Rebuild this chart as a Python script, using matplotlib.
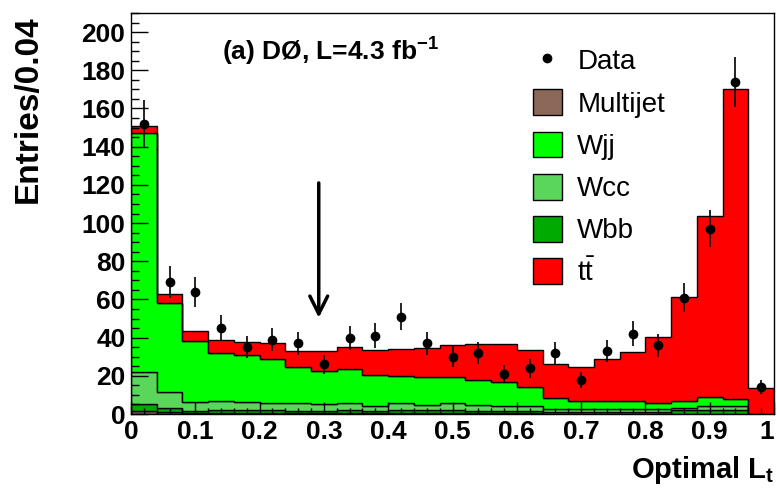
import numpy as np
import matplotlib
matplotlib.use('Agg')
import matplotlib.pyplot as plt
from matplotlib.patches import Patch
from matplotlib.lines import Line2D
from matplotlib.ticker import MultipleLocator

plt.rcParams['font.family'] = ['Liberation Sans', 'DejaVu Sans']
plt.rcParams['mathtext.fontset'] = 'custom'
plt.rcParams['mathtext.rm'] = 'Liberation Sans'
plt.rcParams['mathtext.bf'] = 'Liberation Sans:bold'

# Binning: 25 bins of width 0.04 over [0, 1]
bin_edges = np.round(np.arange(26) * 0.04, 2)
bin_centers = (bin_edges[:-1] + bin_edges[1:]) / 2

# Stack components (entries per bin), bottom to top
multijet = [1.7, 1.0, 0.4, 0.4, 0.4, 0.4, 0.3, 0.3, 0.3, 0.3, 0.3, 0.3, 0.3,
            0.3, 0.3, 0.3, 0.2, 0.2, 0.2, 0.2, 0.2, 0.2, 0.2, 0.2, 0.0]
wbb = [3.4, 2.0, 1.1, 1.6, 1.6, 1.6, 1.5, 1.5, 1.7, 1.5, 1.7, 1.7, 1.7,
       1.5, 1.5, 1.5, 1.0, 1.0, 1.0, 1.0, 1.0, 1.8, 1.8, 1.8, 0.0]
wcc = [16.9, 8.4, 5.0, 5.0, 4.2, 3.6, 3.8, 3.2, 3.9, 2.6, 3.6, 2.9, 3.6,
       2.8, 2.4, 2.4, 1.3, 1.3, 1.3, 1.3, 1.3, 1.3, 2.4, 2.0, 0.0]
wjj = [125.0, 46.5, 31.8, 25.2, 24.6, 23.4, 19.2, 17.7, 17.9, 15.9, 14.3, 14.7, 14.0,
       13.2, 12.4, 9.8, 5.7, 4.3, 4.3, 4.3, 3.4, 3.7, 4.7, 3.9, 0.0]
ttbar = [3.7, 4.9, 5.3, 6.3, 6.8, 8.1, 8.4, 10.5, 11.5, 13.3, 14.2, 15.2, 16.3,
         19.1, 20.0, 19.4, 18.2, 18.0, 21.9, 25.9, 34.5, 54.1, 94.8, 162.1, 13.8]

# Data points and their errors
data = [152, 69, 64, 45, 35, 39, 37, 26, 40, 41, 51, 37, 30,
        32, 21, 24, 32, 18, 33, 42, 36, 61, 97, 174, 14]
data_err = [12.3, 8.3, 8.0, 6.7, 5.9, 6.2, 6.1, 5.1, 6.3, 6.4, 7.1, 6.1, 5.5,
            5.7, 4.6, 4.9, 5.7, 4.2, 5.7, 6.5, 6.0, 7.8, 9.8, 13.2, 3.7]

x_ticks = [0, 0.1, 0.2, 0.3, 0.4, 0.5, 0.6, 0.7, 0.8, 0.9, 1]
x_ticklabels = ['0', '0.1', '0.2', '0.3', '0.4', '0.5', '0.6', '0.7', '0.8', '0.9', '1']

labels = ['Multijet', 'Wjj', 'Wcc', 'Wbb', r'$\mathrm{t\bar{t}}$']
colors = {'Multijet': '#8c6858', 'Wjj': '#00ff00', 'Wcc': '#5ad75a',
          'Wbb': '#00aa00', 'tt': '#ff0000'}

fig = plt.figure(figsize=(7.77, 4.88), dpi=100)
ax = fig.add_axes([131 / 777, 74 / 488, 643 / 777, 401 / 488])

# stacked histogram
stack = [(multijet, colors['Multijet']), (wbb, colors['Wbb']), (wcc, colors['Wcc']),
         (wjj, colors['Wjj']), (ttbar, colors['tt'])]
bottom = np.zeros(len(data))
for vals, c in stack:
    top = bottom + np.array(vals)
    ax.stairs(top, bin_edges, baseline=bottom, fill=True, facecolor=c,
              edgecolor='black', linewidth=1.0)
    bottom = top

# data
ax.errorbar(bin_centers, data, yerr=data_err, fmt='o', color='black',
            markersize=6, elinewidth=1.2, capsize=0, zorder=5)

# arrow marking the cut
ax.annotate('', xy=(0.292, 50.4), xytext=(0.292, 121),
            arrowprops=dict(arrowstyle='->', lw=2.5, color='black',
                            mutation_scale=32, shrinkA=0, shrinkB=0))

ax.set_xlim(0, 1)
ax.set_ylim(0, 210)

ax.set_xticks(x_ticks, x_ticklabels, fontweight='bold')
ax.xaxis.set_minor_locator(MultipleLocator(0.02))
ax.yaxis.set_major_locator(MultipleLocator(20))
ax.yaxis.set_minor_locator(MultipleLocator(5))
ax.tick_params(axis='y', which='major', direction='in', length=12, width=1, pad=4, labelsize=19)
ax.tick_params(axis='y', which='minor', direction='in', length=6, width=1)
ax.tick_params(axis='x', which='major', direction='in', length=9, width=1, pad=4, labelsize=19)
ax.tick_params(axis='x', which='minor', direction='in', length=4.5, width=1)
for lbl in ax.get_yticklabels():
    lbl.set_fontweight('bold')
# keep the last x label inside the picture
ax.xaxis.get_major_ticks()[-1].label1.set_horizontalalignment('right')
for s in ax.spines.values():
    s.set_linewidth(1.0)

ax.set_ylabel('Entries/0.04', fontsize=24, fontweight='bold')
ax.yaxis.set_label_coords(-0.135, 0.76)
ax.set_xlabel(r'Optimal L$_{\mathbf{t}}$', fontsize=21, fontweight='bold', ha='right')
ax.xaxis.set_label_coords(1.0, -0.1)

ax.text(0.141, 0.885, r'(a) DØ, L=4.3 fb$^{\mathbf{-1}}$', transform=ax.transAxes,
        fontsize=19, fontweight='bold')

handles = [Line2D([], [], marker='o', color='black', linestyle='none', markersize=6)]
for lab, key in zip(labels, ['Multijet', 'Wjj', 'Wcc', 'Wbb', 'tt']):
    handles.append(Patch(facecolor=colors[key], edgecolor='black', linewidth=1))
leg = ax.legend(handles, ['Data'] + labels, loc='upper left', bbox_to_anchor=(0.625, 0.915),
                frameon=False, fontsize=20, handlelength=1.05, handleheight=1.05,
                handletextpad=0.55, labelspacing=0.5, borderpad=0, borderaxespad=0)

fig.savefig('out.png', dpi=100)
